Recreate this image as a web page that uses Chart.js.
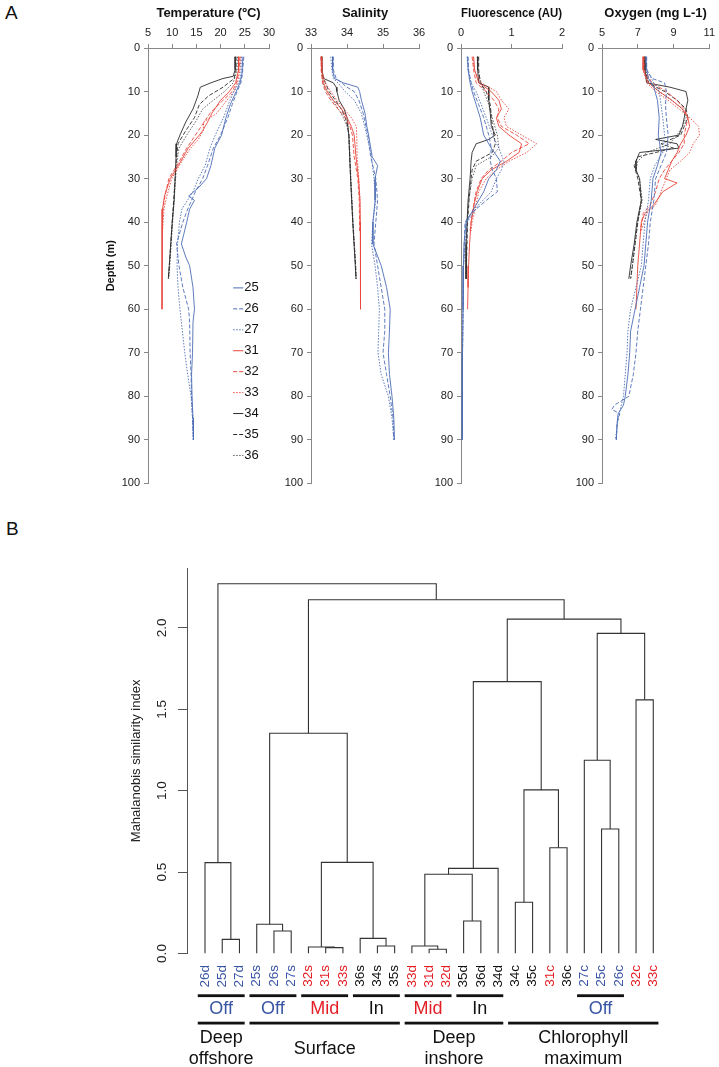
<!DOCTYPE html>
<html>
<head>
<meta charset="utf-8">
<title>CTD profiles and cluster dendrogram</title>
<script src="https://cdn.jsdelivr.net/npm/chart.js@4.4.0/dist/chart.umd.min.js"></script>
<style>
  html, body { margin: 0; padding: 0; background: #fff; overflow: hidden; }
  body { width: 719px; height: 1067px; position: relative; font-family: Arial, "Liberation Sans", sans-serif; }
  .panel { position: absolute; font-size: 19px; color: #111; }
  canvas { position: absolute; }
</style>
</head>
<body>
<div class="panel" style="left:5px; top:2px;">A</div>
<div class="panel" style="left:6px; top:518px;">B</div>

<canvas id="temp" width="181" height="494" style="left:100px; top:0;"></canvas>
<canvas id="sal" width="156" height="494" style="left:275px; top:0;"></canvas>
<canvas id="fluo" width="147" height="494" style="left:425px; top:0;"></canvas>
<canvas id="oxy" width="153" height="494" style="left:566px; top:0;"></canvas>
<canvas id="dendro" width="619" height="512" style="left:100px; top:555px;"></canvas>

<script>
// ---- Panel A: profiles, pairs of [depth (m), value] ----
const stations = ['25', '26', '27', '31', '32', '33', '34', '35', '36'];

const temp25 = [[2,24.6],[6,24.4],[8,24.0],[10,23.2],[13,22.0],[16,21.1],[20,20.2],[23,18.8],[27,18.0],[30,17.1],[32,15.5],[34,13.4],[35,14.6],[37,13.6],[40,13.0],[45,11.9],[48,12.8],[50,13.6],[55,14.3],[60,14.6],[63,14.3],[70,14.2],[75,14.0],[80,14.1],[85,14.3],[90,14.4]];
const temp26 = [[2,24.8],[6,24.5],[8,24.2],[10,23.4],[13,22.4],[16,21.5],[20,20.0],[23,18.5],[27,17.3],[30,16.3],[33,14.8],[37,13.2],[40,12.2],[45,10.9],[50,11.4],[55,12.2],[60,13.4],[63,13.6],[70,13.7],[75,13.9],[80,14.0],[85,14.2],[90,14.4]];
const temp27 = [[2,24.3],[6,24.2],[8,23.8],[10,22.7],[13,21.6],[16,20.6],[20,18.9],[23,17.8],[27,16.8],[30,15.4],[33,14.3],[37,12.0],[40,11.5],[45,11.1],[50,11.0],[55,11.2],[60,11.6],[63,11.9],[70,12.6],[75,13.2],[80,13.9],[85,14.2],[90,14.3]];
const temp31 = [[2,23.8],[5,23.7],[8,23.1],[10,21.8],[12,20.0],[15,18.2],[17,17.3],[19,16.3],[20,15.6],[23,13.3],[26,11.8],[30,9.6],[34,8.4],[37,8.0],[40,7.9],[50,7.9],[60,7.9]];
const temp32 = [[2,24.0],[5,23.8],[8,23.3],[10,22.4],[12,20.5],[15,17.8],[18,16.0],[20,14.8],[23,13.0],[26,11.5],[30,9.3],[34,8.5],[37,8.1],[42,7.95]];
const temp33 = [[2,24.2],[5,24.0],[8,23.5],[10,22.8],[12,21.3],[15,19.2],[17,16.5],[19,16.4],[21,15.4],[23,13.8],[26,12.0],[30,9.9],[34,8.9],[37,8.3],[42,8.0]];
const temp34 = [[2,23.0],[5,23.0],[6.5,22.6],[7,20.5],[8,18.0],[9,15.8],[11,15.3],[14,14.3],[17,12.8],[20,11.6],[22,10.9],[25,10.8],[30,10.6],[35,10.4],[40,10.0],[45,9.7],[50,9.4],[53,9.2]];
const temp35 = [[2,23.2],[5,23.2],[7,22.8],[9,20.5],[11,17.5],[13,15.6],[16,14.6],[19,12.8],[22,11.2],[25,10.9],[30,10.6],[40,10.0],[50,9.4],[53,9.2]];
const temp36 = [[2,23.5],[5,23.4],[8,22.6],[10,20.8],[12,18.5],[14,16.3],[17,14.8],[20,13.0],[23,11.4],[26,11.0],[30,10.7],[40,10.1],[50,9.5],[53,9.3]];

const sal25 = [[2,33.6],[5,33.6],[7,33.65],[8,33.9],[9,34.3],[10,34.35],[12,34.4],[15,34.5],[18,34.55],[20,34.6],[25,34.7],[27,34.85],[30,34.78],[35,34.78],[40,34.72],[45,34.72],[50,34.95],[55,35.1],[60,35.2],[65,35.18],[70,35.15],[75,35.18],[80,35.25],[85,35.3],[90,35.32]];
const sal26 = [[2,33.62],[5,33.62],[7,33.7],[8,33.85],[9,34.0],[10,34.2],[12,34.33],[15,34.45],[20,34.58],[25,34.66],[30,34.8],[35,34.85],[40,34.8],[45,34.75],[50,34.85],[55,34.95],[60,35.05],[65,35.05],[70,35.0],[75,35.1],[80,35.2],[85,35.28],[90,35.3]];
const sal27 = [[2,33.55],[5,33.58],[7,33.62],[8,33.75],[10,33.95],[12,34.2],[15,34.4],[20,34.55],[25,34.68],[30,34.75],[35,34.8],[40,34.72],[45,34.68],[50,34.78],[55,34.85],[60,34.9],[65,34.88],[70,34.86],[75,34.95],[80,35.15],[85,35.25],[90,35.3]];
const sal31 = [[2,33.28],[5,33.3],[8,33.35],[10,33.45],[12,33.62],[14,33.85],[16,34.0],[18,34.12],[20,34.2],[25,34.25],[30,34.32],[35,34.36],[40,34.37],[50,34.37],[60,34.38]];
const sal32 = [[2,33.28],[5,33.28],[8,33.32],[10,33.4],[12,33.55],[14,33.75],[16,33.95],[18,34.08],[20,34.15],[25,34.2],[30,34.3],[35,34.34],[42,34.35]];
const sal33 = [[2,33.3],[5,33.3],[8,33.4],[10,33.55],[12,33.72],[14,33.92],[16,34.12],[18,34.26],[20,34.27],[25,34.28],[30,34.33],[35,34.36],[42,34.36]];
const sal34 = [[2,33.28],[5,33.3],[7,33.35],[8,33.62],[9,33.7],[10,33.72],[12,33.78],[14,33.92],[16,34.0],[20,34.05],[30,34.1],[40,34.16],[50,34.23],[53,34.25]];
const sal35 = [[2,33.3],[6,33.3],[8,33.4],[10,33.5],[12,33.68],[14,33.84],[16,33.95],[18,34.02],[20,34.05],[30,34.1],[40,34.16],[50,34.24],[53,34.25]];
const sal36 = [[2,33.3],[8,33.32],[10,33.45],[12,33.6],[14,33.76],[16,33.9],[18,34.0],[20,34.06],[30,34.11],[40,34.17],[50,34.24],[53,34.26]];

const fluo25 = [[2,0.13],[5,0.14],[8,0.18],[10,0.22],[13,0.3],[16,0.38],[20,0.45],[23,0.6],[26,0.78],[28,0.7],[30,0.55],[33,0.45],[36,0.3],[40,0.1],[45,0.06],[50,0.05],[60,0.04],[70,0.03],[80,0.03],[90,0.02]];
const fluo26 = [[2,0.14],[5,0.15],[8,0.2],[10,0.25],[13,0.35],[16,0.45],[20,0.55],[23,0.6],[26,0.58],[28,0.62],[30,0.7],[33,0.72],[35,0.5],[38,0.2],[40,0.08],[50,0.05],[60,0.04],[70,0.03],[80,0.03],[90,0.03]];
const fluo27 = [[2,0.12],[5,0.14],[8,0.2],[10,0.3],[13,0.4],[16,0.5],[20,0.62],[23,0.75],[26,0.85],[28,0.8],[30,0.7],[33,0.6],[36,0.35],[40,0.12],[50,0.05],[60,0.04],[70,0.03],[80,0.03],[85,0.02]];
const fluo31 = [[2,0.25],[5,0.27],[8,0.35],[10,0.6],[12,0.75],[14,0.8],[16,0.7],[18,0.75],[20,0.95],[22,1.2],[24,1.15],[26,0.9],[28,0.6],[30,0.42],[33,0.32],[36,0.26],[40,0.2],[45,0.17],[50,0.15],[55,0.14],[60,0.13]];
const fluo32 = [[2,0.22],[5,0.25],[8,0.3],[10,0.5],[12,0.65],[14,0.75],[16,0.72],[18,0.8],[20,1.1],[22,1.35],[24,1.0],[26,0.8],[28,0.55],[30,0.4],[33,0.3],[36,0.25],[40,0.2],[42,0.18]];
const fluo33 = [[2,0.24],[5,0.26],[8,0.4],[10,0.7],[12,0.8],[14,0.95],[16,0.85],[18,0.9],[20,1.2],[22,1.5],[24,1.3],[26,0.95],[28,0.7],[30,0.5],[33,0.35],[36,0.3],[40,0.22],[42,0.2]];
const fluo34 = [[2,0.33],[5,0.33],[8,0.35],[9,0.55],[12,0.55],[15,0.58],[18,0.6],[20,0.68],[21,0.55],[22,0.3],[24,0.22],[26,0.2],[30,0.18],[35,0.14],[40,0.12],[45,0.1],[53,0.1]];
const fluo35 = [[2,0.35],[5,0.35],[8,0.38],[10,0.5],[13,0.58],[16,0.6],[20,0.65],[22,0.68],[24,0.62],[26,0.3],[28,0.22],[30,0.2],[35,0.16],[40,0.13],[53,0.1]];
const fluo36 = [[2,0.32],[5,0.33],[8,0.4],[10,0.45],[13,0.55],[16,0.62],[20,0.72],[23,0.75],[25,0.6],[27,0.3],[30,0.22],[35,0.15],[40,0.12],[53,0.1]];

const oxy25 = [[2,7.45],[5,7.5],[7,7.6],[9,7.9],[12,8.1],[16,8.2],[20,8.15],[24,8.3],[27,8.1],[30,7.85],[35,7.75],[40,7.55],[45,7.45],[50,7.35],[55,7.1],[60,6.85],[65,6.6],[70,6.55],[75,6.45],[80,6.3],[82,6.2],[84,5.9],[86,5.85],[90,5.8]];
const oxy26 = [[2,7.5],[5,7.5],[7,7.8],[8,8.5],[10,8.6],[13,8.55],[16,8.6],[20,8.7],[24,8.6],[27,8.3],[30,8.0],[35,7.9],[40,7.7],[45,7.6],[50,7.45],[55,7.3],[60,7.15],[65,7.0],[70,6.9],[75,6.75],[80,6.5],[82,5.7],[83,5.55],[84,6.0],[86,5.85],[90,5.8]];
const oxy27 = [[2,7.45],[5,7.5],[8,7.9],[10,8.2],[13,8.3],[16,8.4],[20,8.5],[24,8.4],[27,7.95],[30,7.7],[35,7.6],[40,7.4],[45,7.3],[50,7.2],[55,6.9],[60,6.6],[65,6.45],[70,6.4],[75,6.3],[80,6.2],[85,5.9],[90,5.75]];
const oxy31 = [[2,7.3],[5,7.3],[8,7.6],[10,8.2],[12,8.9],[14,9.5],[16,9.8],[18,9.9],[20,9.7],[22,9.4],[24,9.2],[26,8.9],[28,8.7],[30,8.5],[31,9.2],[33,8.4],[36,7.9],[38,7.4],[40,7.2],[45,7.1],[50,7.0],[55,6.95],[60,6.9]];
const oxy32 = [[2,7.35],[5,7.35],[8,7.8],[10,8.6],[12,9.2],[14,9.6],[16,9.8],[18,9.7],[20,9.6],[22,9.6],[24,9.3],[26,8.9],[28,8.5],[30,8.2],[33,8.0],[36,7.7],[38,7.3],[42,7.15]];
const oxy33 = [[2,7.3],[5,7.3],[8,7.5],[10,8.0],[12,8.7],[14,9.3],[16,9.9],[18,10.4],[20,10.45],[22,10.1],[24,9.9],[26,9.4],[28,8.8],[30,8.6],[33,8.3],[36,8.0],[38,7.5],[42,7.2]];
const oxy34 = [[2,7.4],[5,7.4],[8,7.5],[9,8.8],[10,9.7],[12,9.8],[14,9.7],[16,9.6],[18,9.5],[20,9.3],[21,8.0],[22,9.2],[23,9.3],[24,7.1],[26,6.9],[28,6.9],[30,7.1],[35,7.2],[40,6.95],[45,6.8],[50,6.6],[53,6.5]];
const oxy35 = [[2,7.4],[5,7.4],[8,7.6],[10,8.5],[12,9.2],[14,9.7],[16,9.8],[18,9.6],[20,9.4],[22,8.3],[23,9.0],[25,7.0],[27,6.8],[30,7.0],[35,7.2],[40,7.0],[45,6.85],[50,6.7],[53,6.6]];
const oxy36 = [[2,7.45],[5,7.45],[8,7.6],[10,8.2],[12,8.9],[14,9.5],[16,9.7],[18,9.5],[20,9.2],[22,8.8],[24,7.5],[26,7.0],[28,6.9],[30,7.1],[35,7.25],[40,7.0],[50,6.7],[53,6.6]];

// ---- Panel B: dendrogram ----
const leaves = ['26d','25d','27d','25s','26s','27s','32s','31s','33s','36s','34s','35s',
                '33d','31d','32d','35d','36d','34d','34c','35c','31c','36c','27c','25c','26c','32c','33c'];
// [left, right, height]; 'mN' refers to the N-th merge
const merges = [
  ['31d','32d',0.026], ['31s','33s',0.036], ['32s','m1',0.040], ['33d','m0',0.046],
  ['34s','35s',0.046], ['25d','27d',0.087], ['36s','m4',0.093], ['26s','27s',0.138],
  ['25s','m7',0.180], ['35d','36d',0.200], ['34c','35c',0.315], ['m3','m9',0.487],
  ['m11','34d',0.523], ['26d','m5',0.558], ['m2','m6',0.560], ['31c','36c',0.650],
  ['25c','26c',0.765], ['m10','m15',1.005], ['27c','m16',1.187], ['m8','m14',1.353],
  ['32c','33c',1.558], ['m12','m17',1.670], ['m18','m20',1.966], ['m21','m22',2.054],
  ['m19','m23',2.173], ['m13','m24',2.271]
];
const siteGroups = [['Off',0,2],['Off',3,5],['Mid',6,8],['In',9,11],['Mid',12,14],['In',15,17],['Off',22,24]];
const layerGroups = [[['Deep','offshore'],0,2],[['Surface'],3,11],[['Deep','inshore'],12,17],[['Chlorophyll','maximum'],18,26]];

const FONT = 'Arial, "Liberation Sans", Helvetica, sans-serif';
Chart.defaults.font.family = FONT;
Chart.defaults.color = '#222';

const blue = '#4d6db5', red = '#e8473d', black = '#2b2b2b';
const stationColor = [blue, blue, blue, red, red, red, black, black, '#555'];
const stationDash = [[], [4, 2], [1.5, 1.5], [], [4, 2], [1.5, 1.5], [], [4, 2], [1.5, 1.5]];
const siteColor = { Off: '#3a55a4', Mid: '#e31e25', In: '#111' };

function leafColor(name) {
  const st = +name.slice(0, 2);
  if (st < 30) return siteColor.Off;
  if (st < 34) return siteColor.Mid;
  return siteColor.In;
}

// legend of stations inside the temperature panel
const stationLegend = {
  id: 'stationLegend',
  afterDatasetsDraw(chart) {
    const { ctx } = chart;
    const xs = chart.scales.x, ys = chart.scales.y;
    ctx.save();
    ctx.font = '13px ' + FONT;
    ctx.textBaseline = 'middle';
    chart.data.datasets.forEach((ds, i) => {
      const py = ys.getPixelForValue(55.1 + i * 4.81);
      ctx.strokeStyle = ds.borderColor;
      ctx.lineWidth = 1;
      ctx.setLineDash(ds.borderDash);
      ctx.beginPath();
      ctx.moveTo(xs.getPixelForValue(22.6), py);
      ctx.lineTo(xs.getPixelForValue(24.7), py);
      ctx.stroke();
      ctx.setLineDash([]);
      ctx.fillStyle = '#111';
      ctx.fillText(ds.label, xs.getPixelForValue(24.9), py);
    });
    ctx.restore();
  }
};

function makeProfile(id, cfg) {
  const datasets = cfg.profiles.map((prof, i) => ({
    label: stations[i],
    data: prof.map(p => ({ x: p[1], y: p[0] })),
    showLine: true,
    pointRadius: 0,
    borderWidth: 0.9,
    borderColor: stationColor[i],
    borderDash: stationDash[i],
    fill: false
  }));
  return new Chart(document.getElementById(id), {
    type: 'scatter',
    data: { datasets },
    options: {
      responsive: false,
      animation: false,
      layout: { padding: { left: 0, right: cfg.padRight, top: 0, bottom: 10 } },
      plugins: { legend: { display: false }, tooltip: { enabled: false } },
      scales: {
        x: {
          type: 'linear', position: 'top', min: cfg.xMin, max: cfg.xMax,
          ticks: { stepSize: cfg.xStep, font: { size: 11 }, padding: 4, color: '#222' },
          grid: { drawOnChartArea: false, tickLength: 4, color: '#888' },
          border: { color: '#888' },
          title: { display: true, text: cfg.title, font: { size: 13, weight: 'bold' }, color: '#111', padding: { top: 6, bottom: 0 } },
          afterFit: s => { s.height = 48; }
        },
        y: {
          type: 'linear', reverse: true, min: 0, max: 100,
          ticks: { stepSize: 10, font: { size: 11 }, padding: 4, color: '#222' },
          grid: { drawOnChartArea: false, tickLength: 4, color: '#888' },
          border: { color: '#888' },
          title: { display: !!cfg.yTitle, text: cfg.yTitle || '', font: { size: 11, weight: 'bold' }, color: '#111' },
          afterFit: s => { s.width = cfg.yWidth; }
        }
      }
    },
    plugins: cfg.plugins || []
  });
}

makeProfile('temp', {
  title: 'Temperature (ºC)', yTitle: 'Depth (m)', xMin: 5, xMax: 30, xStep: 5, yWidth: 48, padRight: 12,
  profiles: [temp25, temp26, temp27, temp31, temp32, temp33, temp34, temp35, temp36],
  plugins: [stationLegend]
});
makeProfile('sal', {
  title: 'Salinity', xMin: 33, xMax: 36, xStep: 1, yWidth: 36, padRight: 12,
  profiles: [sal25, sal26, sal27, sal31, sal32, sal33, sal34, sal35, sal36]
});
makeProfile('fluo', {
  title: 'Fluorescence (AU)', xMin: 0, xMax: 2, xStep: 1, yWidth: 36, padRight: 10,
  profiles: [fluo25, fluo26, fluo27, fluo31, fluo32, fluo33, fluo34, fluo35, fluo36]
});
makeProfile('oxy', {
  title: 'Oxygen (mg L-1)', xMin: 5, xMax: 11, xStep: 2, yWidth: 36, padRight: 6,
  profiles: [oxy25, oxy26, oxy27, oxy31, oxy32, oxy33, oxy34, oxy35, oxy36]
});

// build the dendrogram segments from the merge table
const nodes = [];
function nodeOf(ref) {
  const li = leaves.indexOf(ref);
  if (li >= 0) return { x: li, h: 0 };
  return nodes[+ref.slice(1)];
}
const dendroSets = merges.map(([a, b, h]) => {
  const l = nodeOf(a), r = nodeOf(b);
  nodes.push({ x: (l.x + r.x) / 2, h: h });
  return {
    data: [{ x: l.x, y: l.h }, { x: l.x, y: h }, { x: r.x, y: h }, { x: r.x, y: r.h }],
    showLine: true, pointRadius: 0, borderWidth: 1.1, borderColor: '#333', fill: false
  };
});

const dendroExtras = {
  id: 'dendroExtras',
  afterDraw(chart) {
    const { ctx, chartArea } = chart;
    const xs = chart.scales.x, ys = chart.scales.y;
    const base = chartArea.bottom;
    ctx.save();
    // y tick labels, written sideways as in the original
    ctx.fillStyle = '#222';
    ctx.font = '13.5px ' + FONT;
    ctx.textAlign = 'center';
    ctx.textBaseline = 'middle';
    ys.ticks.forEach(t => {
      ctx.save();
      ctx.translate(ys.right - 24.3, ys.getPixelForValue(t.value));
      ctx.rotate(-Math.PI / 2);
      ctx.fillText(t.value.toFixed(1), 0, 0);
      ctx.restore();
    });
    // site groups
    ctx.textBaseline = 'alphabetic';
    ctx.font = '18px ' + FONT;
    siteGroups.forEach(([name, a, b]) => {
      const x0 = xs.getPixelForValue(a - 0.42), x1 = xs.getPixelForValue(b + 0.3);
      ctx.fillStyle = '#111';
      ctx.fillRect(x0, base + 40.8, x1 - x0, 2.8);
      ctx.fillStyle = siteColor[name];
      ctx.fillText(name, (x0 + x1) / 2, base + 60.3);
    });
    // water layer groups
    layerGroups.forEach(([lines, a, b]) => {
      const x0 = xs.getPixelForValue(a - 0.42), x1 = xs.getPixelForValue(b + 0.3);
      ctx.fillStyle = '#111';
      ctx.fillRect(x0, base + 68.2, x1 - x0, 2.8);
      const cx = (x0 + x1) / 2;
      if (lines.length === 1) {
        ctx.fillText(lines[0], cx, base + 100.5);
      } else {
        ctx.fillText(lines[0], cx, base + 89.8);
        ctx.fillText(lines[1], cx, base + 110.5);
      }
    });
    ctx.restore();
  }
};

new Chart(document.getElementById('dendro'), {
  type: 'scatter',
  data: { datasets: dendroSets },
  options: {
    responsive: false,
    animation: false,
    layout: { padding: { left: 25, right: 19, top: 13.3, bottom: 0 } },
    plugins: { legend: { display: false }, tooltip: { enabled: false } },
    scales: {
      x: {
        type: 'linear', position: 'bottom', min: -1.044, max: 28.71,
        afterBuildTicks: s => { s.ticks = leaves.map((_, i) => ({ value: i })); },
        ticks: {
          autoSkip: false, minRotation: 90, maxRotation: 90, padding: 11.5,
          font: { size: 13.5 },
          color: c => leafColor(leaves[c.index] || '34'),
          callback: (v, i) => leaves[i]
        },
        grid: { display: false, drawTicks: false },
        border: { display: false },
        afterFit: s => { s.height = 113.5; }
      },
      y: {
        type: 'linear', min: 0, max: 2.366,
        ticks: { stepSize: 0.5, includeBounds: false, display: false },
        grid: { drawOnChartArea: false, tickLength: 9, color: '#555' },
        border: { color: '#555' },
        title: { display: true, text: 'Mahalanobis similarity index', font: { size: 13 }, color: '#222' },
        afterFit: s => { s.width = 62; }
      }
    }
  },
  plugins: [dendroExtras]
});
</script>
</body>
</html>
